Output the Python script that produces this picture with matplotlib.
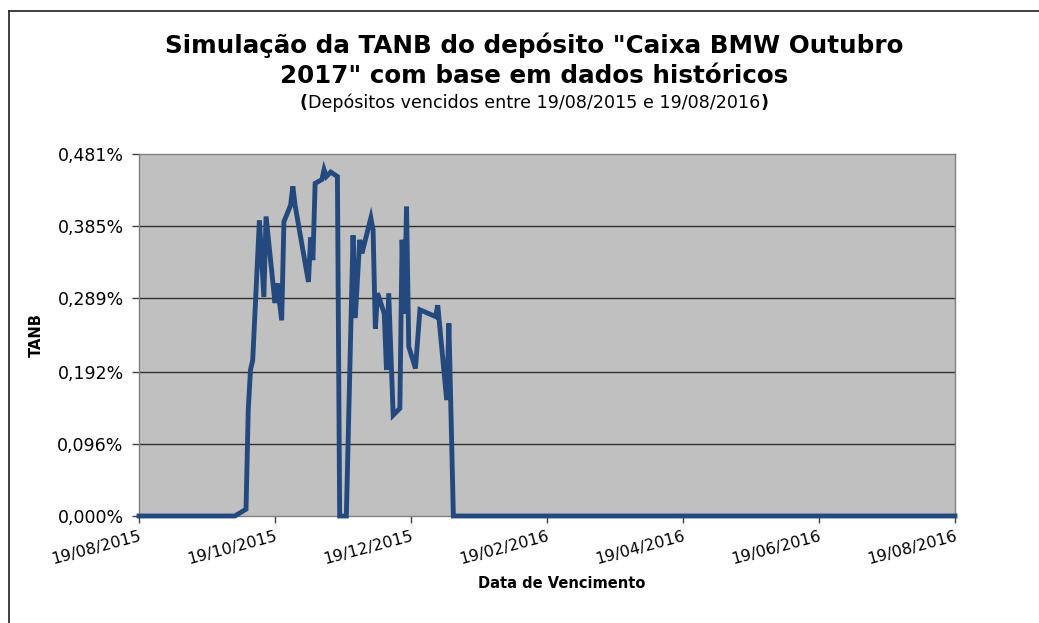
import matplotlib
matplotlib.use("Agg")
import matplotlib.pyplot as plt
from matplotlib.lines import Line2D

plt.rcParams['font.family'] = ['DejaVu Sans']

# dias desde 19/08/2015 e TANB (%)
dias = [0, 43, 48, 49, 50, 51, 54, 56, 57, 61, 62, 64, 65, 68, 69, 70, 76, 77, 78,
        79, 82, 83, 84, 86, 89, 90, 93, 96, 97, 99, 100, 104, 105, 106, 107, 110,
        111, 112, 114, 117, 118, 119, 120, 121, 124, 126, 133, 134, 138, 139, 141, 366]
tanb = [0, 0, 0.009, 0.141, 0.194, 0.207, 0.393, 0.291, 0.398, 0.283, 0.309, 0.260,
        0.391, 0.413, 0.438, 0.413, 0.311, 0.370, 0.340, 0.442, 0.447, 0.460, 0.451,
        0.457, 0.451, 0, 0, 0.373, 0.263, 0.367, 0.349, 0.396, 0.380, 0.249, 0.296,
        0.269, 0.194, 0.296, 0.134, 0.143, 0.367, 0.269, 0.411, 0.225, 0.196, 0.274,
        0.265, 0.280, 0.154, 0.256, 0, 0]

tick_dias = [0, 61, 122, 183, 244, 305, 366]
tick_labels = ['19/08/2015', '19/10/2015', '19/12/2015', '19/02/2016',
               '19/04/2016', '19/06/2016', '19/08/2016']
y_ticks = [0.0, 0.096, 0.192, 0.289, 0.385, 0.481]
y_labels = ['0,000%', '0,096%', '0,192%', '0,289%', '0,385%', '0,481%']

fig = plt.figure(figsize=(10.39, 6.23), dpi=100)
ax = fig.add_axes([139/1039, 1 - 516/623, 816/1039, 362/623])
ax.set_facecolor('#C0C0C0')

for yv in y_ticks[1:-1]:
    ax.axhline(yv, color='#303030', lw=1, zorder=1)

ax.plot(dias, tanb, color='#23497F', lw=3.5, solid_joinstyle='miter', zorder=3, clip_on=False)

ax.set_xlim(0, 366)
ax.set_ylim(0, 0.481)
ax.set_xticks(tick_dias)
ax.set_xticklabels(tick_labels, rotation=15, ha='right', rotation_mode='anchor', fontsize=11.5)
ax.set_yticks(y_ticks)
ax.set_yticklabels(y_labels, fontsize=12.5)
ax.tick_params(axis='both', direction='out', length=5, color='#404040', width=1)
ax.tick_params(axis='x', pad=4)
ax.tick_params(axis='y', pad=6)
for s in ax.spines.values():
    s.set_color('#808080')
    s.set_linewidth(1)

ax.set_ylabel('TANB', fontsize=10.5, fontweight='bold', labelpad=10)
fig.text(562/1039, 1 - 583/623, 'Data de Vencimento', fontsize=10.5, fontweight='bold',
         ha='center', va='center')

fig.text(534/1039, 1 - 45/623, 'Simulação da TANB do depósito "Caixa BMW Outubro',
         fontsize=17.7, fontweight='bold', ha='center', va='center')
fig.text(534/1039, 1 - 76/623, '2017" com base em dados históricos',
         fontsize=17.7, fontweight='bold', ha='center', va='center')

sub = fig.text(534/1039, 1 - 103/623, 'Depósitos vencidos entre 19/08/2015 e 19/08/2016',
               fontsize=12.6, ha='center', va='center')
fig.canvas.draw()
bb = sub.get_window_extent()
fig.text(bb.x0 / 1039, 1 - 103/623, '(', fontsize=12.6, fontweight='bold', ha='right', va='center')
fig.text(bb.x1 / 1039, 1 - 103/623, ')', fontsize=12.6, fontweight='bold', ha='left', va='center')

# moldura do grafico
fig.add_artist(Line2D([8.5/1039, 8.5/1039], [0, 1 - 11/623], color='#303030', lw=1.3))
fig.add_artist(Line2D([8.5/1039, 1], [1 - 11/623, 1 - 11/623], color='#303030', lw=1.3))

fig.savefig('out.png', dpi=100)
